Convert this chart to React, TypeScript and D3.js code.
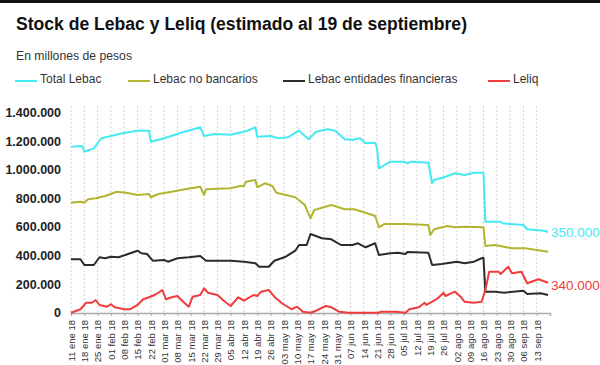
import React, { useEffect, useRef } from 'react';
import * as d3 from 'd3';

// valores en miles de millones de pesos (se multiplican por 1000)
const totalLebac: [string, number][] = [
  ['01-11', 1162], ['01-16', 1167], ['01-17', 1165], ['01-18', 1127], ['01-23', 1150], ['01-27', 1221],
  ['02-01', 1237], ['02-07', 1256], ['02-15', 1274], ['02-21', 1274], ['02-22', 1197], ['03-01', 1221],
  ['03-10', 1260], ['03-20', 1298], ['03-22', 1237], ['03-28', 1251], ['04-05', 1246], ['04-14', 1274],
  ['04-18', 1298], ['04-19', 1232], ['04-26', 1237], ['04-30', 1221], ['05-05', 1228], ['05-11', 1274],
  ['05-16', 1214], ['05-20', 1267], ['05-26', 1284], ['05-30', 1274], ['06-04', 1214], ['06-08', 1209],
  ['06-12', 1221], ['06-15', 1186], ['06-20', 1190], ['06-21', 1151], ['06-22', 1011], ['06-28', 1057],
  ['07-05', 1057], ['07-07', 1046], ['07-09', 1057], ['07-18', 1050], ['07-20', 906], ['07-21', 929],
  ['07-27', 952], ['08-01', 976], ['08-06', 964], ['08-11', 980], ['08-16', 980], ['08-17', 637],
  ['08-25', 637], ['08-26', 626], ['09-06', 614], ['09-08', 584], ['09-17', 574], ['09-19', 565],
];

const lebacNoBancarios: [string, number][] = [
  ['01-11', 770], ['01-16', 777], ['01-18', 770], ['01-20', 794], ['01-24', 801], ['01-29', 817],
  ['02-04', 847], ['02-09', 840], ['02-15', 824], ['02-21', 831], ['02-22', 808], ['02-26', 831],
  ['03-05', 847], ['03-12', 864], ['03-20', 882], ['03-22', 824], ['03-23', 864], ['04-05', 871],
  ['04-10', 887], ['04-12', 887], ['04-13', 917], ['04-18', 929], ['04-19', 878], ['04-23', 906],
  ['04-27', 887], ['04-29', 840], ['05-04', 824], ['05-09', 808], ['05-14', 754], ['05-17', 661],
  ['05-19', 719], ['05-28', 754], ['06-04', 724], ['06-09', 724], ['06-15', 700], ['06-20', 677],
  ['06-22', 598], ['06-25', 621], ['07-06', 621], ['07-18', 614], ['07-19', 544], ['07-21', 584],
  ['07-28', 607], ['08-01', 598], ['08-06', 602], ['08-16', 598], ['08-17', 467], ['08-22', 474],
  ['08-31', 451], ['09-07', 451], ['09-19', 427],
];

const lebacEntidades: [string, number][] = [
  ['01-11', 374], ['01-16', 374], ['01-18', 334], ['01-23', 334], ['01-26', 388], ['01-29', 381],
  ['02-01', 392], ['02-05', 388], ['02-10', 411], ['02-15', 434], ['02-17', 416], ['02-20', 411],
  ['02-23', 364], ['03-01', 369], ['03-03', 357], ['03-08', 381], ['03-14', 388], ['03-20', 397],
  ['03-23', 364], ['04-05', 364], ['04-12', 357], ['04-18', 346], ['04-20', 322], ['04-25', 322],
  ['04-28', 364], ['05-04', 392], ['05-09', 434], ['05-11', 474], ['05-15', 474], ['05-17', 551],
  ['05-23', 521], ['05-28', 514], ['06-02', 474], ['06-08', 474], ['06-11', 486], ['06-15', 458],
  ['06-20', 486], ['06-22', 404], ['06-28', 416], ['07-02', 420], ['07-06', 411], ['07-07', 425],
  ['07-18', 420], ['07-20', 334], ['07-25', 341], ['08-02', 357], ['08-06', 346], ['08-11', 357],
  ['08-15', 381], ['08-16', 385], ['08-17', 147], ['08-22', 147], ['08-27', 140], ['09-06', 154],
  ['09-08', 131], ['09-15', 136], ['09-19', 124],
];

const leliq: [string, number][] = [
  ['01-11', 0], ['01-16', 24], ['01-19', 70], ['01-22', 70], ['01-24', 89], ['01-26', 54],
  ['01-30', 42], ['02-01', 59], ['02-03', 38], ['02-08', 24], ['02-11', 24], ['02-15', 54],
  ['02-18', 94], ['02-21', 108], ['02-24', 124], ['02-26', 140], ['02-28', 159], ['03-02', 94],
  ['03-05', 108], ['03-08', 117], ['03-11', 77], ['03-14', 42], ['03-16', 112], ['03-20', 124],
  ['03-22', 171], ['03-24', 140], ['03-29', 124], ['04-02', 77], ['04-05', 47], ['04-09', 108],
  ['04-12', 84], ['04-17', 124], ['04-19', 117], ['04-21', 147], ['04-25', 159], ['04-28', 112],
  ['05-02', 66], ['05-07', 24], ['05-10', 42], ['05-13', 7], ['05-17', 0], ['05-20', 14],
  ['05-25', 47], ['05-28', 38], ['06-01', 7], ['06-06', 0], ['06-22', 0], ['06-23', 7],
  ['07-01', 7], ['07-06', 0], ['07-08', 24], ['07-13', 38], ['07-16', 70], ['07-17', 54],
  ['07-20', 77], ['07-23', 101], ['07-26', 140], ['07-27', 117], ['08-01', 147], ['08-04', 112],
  ['08-06', 77], ['08-11', 70], ['08-15', 77], ['08-17', 159], ['08-19', 287], ['08-24', 287],
  ['08-25', 271], ['08-29', 322], ['08-31', 276], ['09-05', 287], ['09-08', 206], ['09-14', 234],
  ['09-19', 210],
];

const series = [
  { name: 'Total Lebac', color: '#45e9f2', data: totalLebac },
  { name: 'Lebac no bancarios', color: '#b3b531', data: lebacNoBancarios },
  { name: 'Lebac entidades financieras', color: '#2b2b2b', data: lebacEntidades },
  { name: 'Leliq', color: '#f03c3c', data: leliq },
];

const legendX = [15, 128, 283, 488];
const yTicks = [0, 200000, 400000, 600000, 800000, 1000000, 1200000, 1400000];
const meses = ['ene', 'feb', 'mar', 'abr', 'may', 'jun', 'jul', 'ago', 'sep', 'oct', 'nov', 'dic'];
const endLabels = [
  { text: '350.000', color: '#45e9f2', y: 232 },
  { text: '340.000', color: '#f03c3c', y: 285 },
];

const narrow = '"Liberation Sans Narrow", "Arial Narrow", "Liberation Sans", Arial, sans-serif';

const App = () => {
  const ref = useRef<SVGSVGElement>(null);

  useEffect(() => {
    document.body.style.margin = '0';
    const svg = d3.select(ref.current);
    svg.selectAll('*').remove();

    const parse = d3.timeParse('%Y-%m-%d');
    const fecha = (s: string) => parse('2018-' + s) as Date;

    const x = d3.scaleTime()
      .domain([fecha('01-11'), fecha('09-20')])
      .range([71, 550]);
    const y = d3.scaleLinear().domain([0, 1400000]).range([312.7, 112.7]);

    const fmt = d3.formatLocale({ decimal: ',', thousands: '.', grouping: [3], currency: ['$', ''] }).format(',d');

    svg.append('rect').attr('width', 600).attr('height', 365).attr('fill', '#fff');
    svg.append('rect').attr('width', 600).attr('height', 3).attr('fill', '#111');

    svg.append('text')
      .attr('x', 16).attr('y', 29.5)
      .attr('font-family', '"Liberation Sans", Arial, sans-serif')
      .attr('font-weight', 'bold').attr('font-size', 17.5)
      .attr('textLength', 451).attr('lengthAdjust', 'spacingAndGlyphs')
      .attr('fill', '#111')
      .text('Stock de Lebac y Leliq (estimado al 19 de septiembre)');

    svg.append('text')
      .attr('x', 16).attr('y', 60)
      .attr('font-family', '"Liberation Sans", Arial, sans-serif')
      .attr('font-size', 12.5).attr('fill', '#333')
      .attr('textLength', 116).attr('lengthAdjust', 'spacingAndGlyphs')
      .text('En millones de pesos');

    // leyenda
    series.forEach((s, i) => {
      const lx = legendX[i];
      svg.append('line')
        .attr('x1', lx).attr('x2', lx + 22).attr('y1', 81).attr('y2', 81)
        .attr('stroke', s.color).attr('stroke-width', 2);
      svg.append('text')
        .attr('x', lx + 25).attr('y', 83)
        .attr('font-family', '"Liberation Sans", Arial, sans-serif')
        .attr('font-size', 12).attr('fill', '#333')
        .text(s.name);
    });

    const weeks = d3.timeThursday.range(fecha('01-11'), fecha('09-14'));

    // grilla vertical punteada
    svg.append('g').selectAll('line').data(weeks).join('line')
      .attr('x1', d => x(d)).attr('x2', d => x(d))
      .attr('y1', 106).attr('y2', 313)
      .attr('stroke', '#d4d4d4').attr('stroke-width', 1).attr('stroke-dasharray', '2,2');

    // eje y
    svg.append('g').selectAll('text').data(yTicks).join('text')
      .attr('x', 61).attr('y', d => y(d)).attr('dy', '0.35em')
      .attr('text-anchor', 'end')
      .attr('font-family', narrow).attr('font-weight', 'bold').attr('font-size', 12.5)
      .attr('fill', '#222')
      .text(d => fmt(d));

    // eje x
    const gx = svg.append('g').attr('transform', 'translate(0,313)');
    gx.call(
      d3.axisBottom(x)
        .tickValues(weeks)
        .tickSize(3)
        .tickFormat(d => {
          const dt = d as Date;
          return `${d3.timeFormat('%d')(dt)} ${meses[dt.getMonth()]} 18`;
        })
    );
    gx.select('.domain').attr('stroke', '#aaa').attr('stroke-width', 1.5);
    gx.selectAll('.tick line').attr('stroke', '#aaa');
    gx.selectAll('.tick text')
      .attr('font-family', narrow).attr('font-size', 9.5).attr('fill', '#333')
      .attr('text-anchor', 'end')
      .attr('transform', 'rotate(-90)')
      .attr('x', -7).attr('y', 0).attr('dy', '0.35em');

    const line = d3.line<[string, number]>()
      .x(d => x(fecha(d[0])))
      .y(d => y(d[1] * 1000));

    series.forEach(s => {
      svg.append('path')
        .datum(s.data)
        .attr('d', line)
        .attr('fill', 'none')
        .attr('stroke', s.color)
        .attr('stroke-width', 2)
        .attr('stroke-linejoin', 'round');
    });

    endLabels.forEach(l => {
      svg.append('text')
        .attr('x', 551).attr('y', l.y).attr('dy', '0.35em')
        .attr('font-family', '"Liberation Sans", Arial, sans-serif')
        .attr('font-size', 13.5).attr('fill', l.color)
        .text(l.text);
    });
  }, []);

  return <svg ref={ref} width={600} height={365} style={{ display: 'block' }} />;
};

export default App;
